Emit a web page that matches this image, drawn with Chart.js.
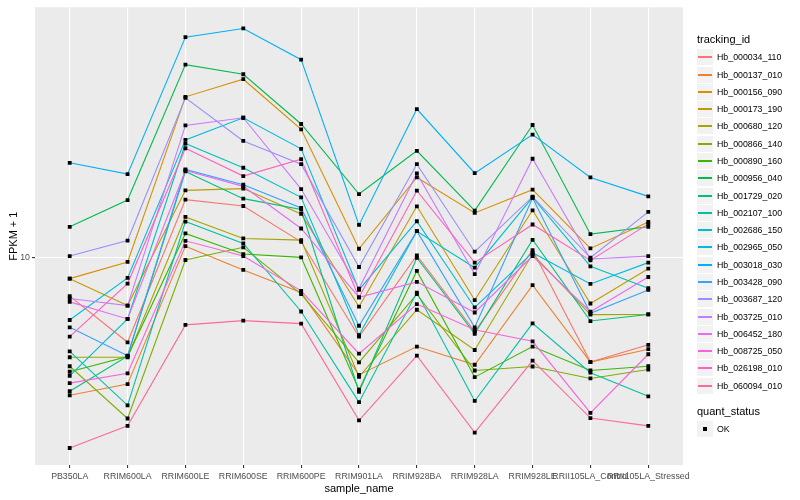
<!DOCTYPE html>
<html>
<head>
<meta charset="utf-8">
<script src="https://cdn.jsdelivr.net/npm/chart.js@4/dist/chart.umd.min.js"></script>
<style>
  html, body { margin: 0; padding: 0; background: #fff; }
  #wrap { position: relative; width: 800px; height: 500px; font-family: "Liberation Sans", Arial, sans-serif; }
  #chart { position: absolute; left: 0; top: 0; }
  .lg-title { position: absolute; left: 697px; font-size: 11px; line-height: 13px; color: #000; white-space: nowrap; }
  .lg-key { position: absolute; left: 697px; width: 16px; height: 16px; background: #f2f2f2; }
  .lg-line { position: absolute; left: 1px; right: 1px; top: 7px; height: 2px; }
  .lg-dot { position: absolute; left: 6px; top: 6px; width: 4px; height: 4px; background: #000; }
  .lg-text { position: absolute; left: 717px; font-size: 8.8px; line-height: 10px; color: #000; white-space: nowrap; }
</style>
</head>
<body>
<div id="wrap">
  <canvas id="chart" width="800" height="500"></canvas>
</div>
<script>
// categorias (eixo x)
const sampleNames = ['PB350LA', 'RRIM600LA', 'RRIM600LE', 'RRIM600SE', 'RRIM600PE', 'RRIM901LA',
  'RRIM928BA', 'RRIM928LA', 'RRIM928LE', 'RRII105LA_Control', 'RRII105LA_Stressed'];

const trackingIds = ['Hb_000034_110', 'Hb_000137_010', 'Hb_000156_090', 'Hb_000173_190', 'Hb_000680_120',
  'Hb_000866_140', 'Hb_000890_160', 'Hb_000956_040', 'Hb_001729_020', 'Hb_002107_100', 'Hb_002686_150',
  'Hb_002965_050', 'Hb_003018_030', 'Hb_003428_090', 'Hb_003687_120', 'Hb_003725_010', 'Hb_006452_180',
  'Hb_008725_050', 'Hb_026198_010', 'Hb_060094_010'];

// paleta hue do ggplot para 20 níveis
const seriesColors = ['#F8766D', '#EA8331', '#D89000', '#C09B00', '#A3A500', '#7CAE00', '#39B600', '#00BB4E',
  '#00BF7D', '#00C1A3', '#00BFC4', '#00BAE0', '#00B0F6', '#35A2FF', '#9590FF', '#C77CFF', '#E76BF3',
  '#FA62DB', '#FF62BC', '#FF6A98'];

// FPKM + 1 por amostra
const hb000034_110 = [7.45, 5.22, 15.69, 14.94, 11.33, 5.45, 10.21, 5.67, 10.63, 4.48, 5.12];
const hb000137_010 = [3.47, 3.78, 10.96, 9.12, 7.66, 4.06, 5.05, 4.39, 8.11, 4.48, 4.95];
const hb000156_090 = [8.53, 9.70, 34.67, 39.72, 26.98, 10.74, 18.62, 14.16, 16.94, 10.77, 13.21];
const hb000173_190 = [8.53, 6.93, 16.85, 17.08, 14.05, 6.87, 14.90, 7.23, 14.45, 7.04, 9.21];
const hb000680_120 = [4.65, 4.65, 13.73, 11.63, 11.48, 4.00, 6.71, 4.92, 10.31, 6.46, 6.47];
const hb000866_140 = [4.34, 2.90, 9.85, 10.86, 7.57, 4.47, 7.57, 4.20, 4.33, 3.95, 4.23];
const hb000890_160 = [4.16, 4.68, 12.09, 10.31, 10.05, 3.62, 9.05, 3.99, 5.05, 4.20, 4.34];
const hb000956_040 = [12.72, 15.64, 44.44, 41.28, 28.12, 16.38, 22.86, 14.42, 27.90, 12.02, 12.72];
const hb001729_020 = [3.58, 4.69, 19.50, 15.81, 14.53, 3.56, 10.02, 5.57, 11.51, 6.15, 6.47];
const hb002107_100 = [4.87, 3.21, 13.25, 11.19, 6.62, 3.29, 7.66, 3.32, 6.04, 4.13, 3.44];
const hb002686_150 = [4.03, 6.25, 24.17, 20.06, 15.97, 5.52, 12.30, 9.28, 15.97, 9.38, 7.92];
const hb002965_050 = [6.20, 8.58, 24.87, 29.51, 23.21, 7.82, 13.28, 6.83, 10.42, 8.19, 9.65];
const hb003018_030 = [20.84, 19.10, 54.95, 58.75, 46.18, 12.91, 31.55, 19.24, 25.90, 18.62, 16.09];
const hb003428_090 = [5.86, 4.71, 19.80, 17.61, 14.71, 5.93, 12.30, 5.86, 15.89, 6.53, 7.82];
const hb003687_120 = [10.15, 11.44, 34.41, 24.68, 20.62, 9.33, 20.62, 10.50, 16.05, 10.02, 14.27];
const hb003725_010 = [7.32, 6.93, 27.82, 29.51, 17.02, 7.90, 19.20, 8.83, 21.50, 9.92, 10.15];
const hb006452_180 = [7.13, 6.25, 19.65, 17.38, 12.56, 7.38, 8.32, 6.57, 10.15, 6.61, 8.64];
const hb008725_050 = [3.81, 4.11, 11.42, 10.15, 7.76, 4.78, 7.01, 5.75, 5.26, 3.03, 4.76];
const hb026198_010 = [5.45, 8.21, 23.32, 18.81, 21.43, 7.38, 16.81, 9.65, 12.95, 9.82, 13.01];
const hb060094_010 = [2.31, 2.74, 5.97, 6.17, 6.03, 2.86, 4.71, 2.60, 4.53, 2.91, 2.74];

const seriesValues = [hb000034_110, hb000137_010, hb000156_090, hb000173_190, hb000680_120, hb000866_140,
  hb000890_160, hb000956_040, hb001729_020, hb002107_100, hb002686_150, hb002965_050, hb003018_030,
  hb003428_090, hb003687_120, hb003725_010, hb006452_180, hb008725_050, hb026198_010, hb060094_010];

const yTicks = [10];
const yMin = 2.0258;
const yMax = 69.18;

const FONT = '"Liberation Sans", Arial, sans-serif';

// fundo do painel cinza como no ggplot
const panelBg = {
  id: 'panelBg',
  beforeDraw(chart) {
    const { ctx, chartArea: a } = chart;
    ctx.save();
    ctx.fillStyle = '#fff';
    ctx.fillRect(0, 0, chart.width, chart.height);
    ctx.fillStyle = '#ebebeb';
    ctx.fillRect(a.left, a.top, a.right - a.left, a.bottom - a.top);
    ctx.restore();
  }
};

const datasets = seriesValues.map((vals, i) => ({
  type: 'line',
  label: trackingIds[i],
  data: vals.map((v, j) => ({ x: j, y: v })),
  borderColor: seriesColors[i],
  borderWidth: 1.1,
  pointRadius: 0,
  fill: false,
  tension: 0,
  order: seriesValues.length - 1 - i
}));

// pontos (quant_status = OK) por cima de todas as linhas
datasets.push({
  type: 'scatter',
  label: 'OK',
  data: seriesValues.flatMap(vals => vals.map((v, j) => ({ x: j, y: v }))),
  pointStyle: 'rect',
  pointRadius: 2.7,
  pointBackgroundColor: '#000',
  pointBorderWidth: 0,
  order: -1
});

new Chart(document.getElementById('chart'), {
  data: { datasets: datasets },
  plugins: [panelBg],
  options: {
    responsive: false,
    animation: false,
    events: [],
    layout: { padding: { left: 0, right: 117, top: 5, bottom: 0 } },
    plugins: { legend: { display: false }, tooltip: { enabled: false } },
    scales: {
      x: {
        type: 'linear',
        min: -0.6,
        max: 10.6,
        afterBuildTicks: s => { s.ticks = sampleNames.map((_, i) => ({ value: i })); },
        afterFit: s => { s.height = 35; },
        border: { display: false },
        grid: { color: '#fff', lineWidth: 1.1, tickColor: '#333', tickLength: 3 },
        ticks: {
          callback: v => sampleNames[v],
          autoSkip: false, maxRotation: 0, minRotation: 0,
          color: '#4d4d4d', font: { family: FONT, size: 8.8 }, padding: 3
        },
        title: { display: true, text: 'sample_name', color: '#000', font: { family: FONT, size: 11 }, padding: { top: 0, bottom: 4 } }
      },
      y: {
        type: 'logarithmic',
        min: yMin,
        max: yMax,
        afterBuildTicks: s => { s.ticks = yTicks.map(v => ({ value: v })); },
        afterFit: s => { s.width = 35; },
        border: { display: false },
        grid: { color: '#fff', lineWidth: 1.1, tickColor: '#333', tickLength: 3 },
        ticks: {
          callback: v => String(v),
          color: '#4d4d4d', font: { family: FONT, size: 8.8 }, padding: 2
        },
        title: { display: true, text: 'FPKM + 1', color: '#000', font: { family: FONT, size: 11 }, padding: { top: 7, bottom: 0 } }
      }
    }
  }
});

// legenda no estilo ggplot
const wrap = document.getElementById('wrap');
function addEl(cls, css, text) {
  const el = document.createElement('div');
  el.className = cls;
  Object.assign(el.style, css);
  if (text) el.textContent = text;
  wrap.appendChild(el);
  return el;
}
addEl('lg-title', { top: '33px' }, 'tracking_id');
const rowH = 17.28;
trackingIds.forEach((id, i) => {
  const cy = 57.3 + i * rowH;
  const key = addEl('lg-key', { top: Math.round(cy - 8) + 'px' });
  const ln = document.createElement('div');
  ln.className = 'lg-line';
  ln.style.background = seriesColors[i];
  key.appendChild(ln);
  addEl('lg-text', { top: Math.round(cy - 5) + 'px' }, id);
});
addEl('lg-title', { top: '405px' }, 'quant_status');
const okKey = addEl('lg-key', { top: Math.round(428.5 - 8) + 'px' });
const dot = document.createElement('div');
dot.className = 'lg-dot';
okKey.appendChild(dot);
addEl('lg-text', { top: Math.round(428.5 - 5) + 'px' }, 'OK');
</script>
</body>
</html>
